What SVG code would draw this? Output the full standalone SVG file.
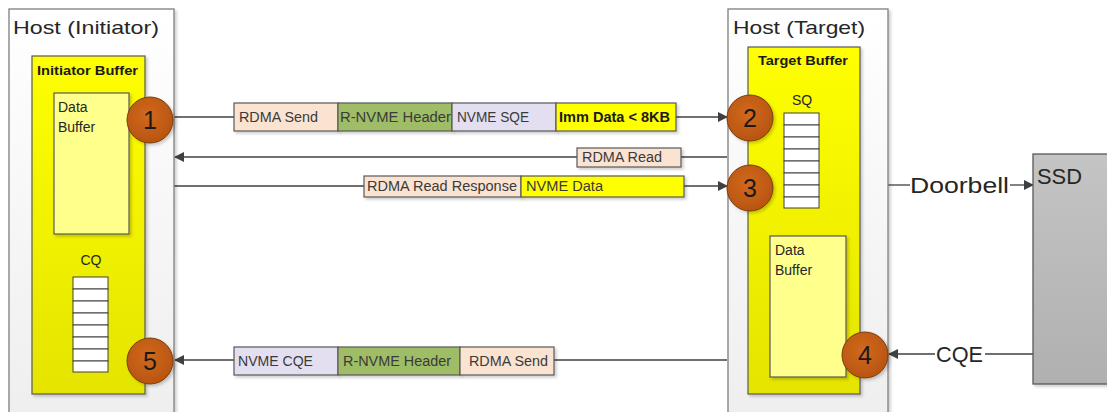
<svg xmlns="http://www.w3.org/2000/svg" width="1107" height="412" viewBox="0 0 1107 412">
<style>
text{font-family:"Liberation Sans",Arial,sans-serif;fill:#262626}
.host{fill:url(#gHost);stroke:#7f7f7f;stroke-width:1.3}
.buf{fill:url(#gYel);stroke:#595959;stroke-width:1.2}
.dbuf{fill:#FFFF8C;stroke:#595959;stroke-width:1.2}
.cell{fill:#fff;stroke:#404040;stroke-width:1}
.pk{stroke:#595959;stroke-width:1.2}
.rdma{fill:#FBE3D2}
.hdr{fill:#9FBD66}
.sqe{fill:#E3DFF0}
.yel{fill:#FFFF00}
.pt{font-size:14px;fill:#3a3a3a}
.num{fill:url(#gCirc);stroke:#7a3a0a;stroke-width:1}
.nt{font-size:25px;text-anchor:middle;fill:#1a1a1a}
.ln{stroke:#404040;stroke-width:1.3;fill:none}
.big{font-size:22px}
.sm{font-size:14px}
.bold{font-weight:bold;font-size:13px;fill:#1a1a1a}
</style>
<defs>
<linearGradient id="gHost" x1="0" y1="0" x2="0" y2="1"><stop offset="0" stop-color="#ffffff"/><stop offset="1" stop-color="#eeeeee"/></linearGradient>
<linearGradient id="gYel" x1="0" y1="0" x2="0" y2="1"><stop offset="0" stop-color="#FFFF00"/><stop offset="1" stop-color="#E4E400"/></linearGradient>
<linearGradient id="gSsd" x1="0" y1="0" x2="0" y2="1"><stop offset="0" stop-color="#C4C4C4"/><stop offset="1" stop-color="#B0B0B0"/></linearGradient>
<radialGradient id="gCirc" cx="0.45" cy="0.4" r="0.6"><stop offset="0" stop-color="#D2691E"/><stop offset="1" stop-color="#B8550F"/></radialGradient>
<filter id="sh" x="-10%" y="-10%" width="130%" height="130%"><feDropShadow dx="2" dy="2" stdDeviation="1.5" flood-color="#000" flood-opacity="0.2"/></filter>
<marker id="ar" viewBox="0 0 10 10" refX="9" refY="5" markerWidth="10" markerHeight="10" markerUnits="userSpaceOnUse" orient="auto"><path d="M0,0 L10,5 L0,10 z" fill="#404040"/></marker>
</defs>

<g id="connectors">
<line class="ln" x1="174" y1="117" x2="727" y2="117" marker-end="url(#ar)"/>
<line class="ln" x1="727" y1="157" x2="175" y2="157" marker-end="url(#ar)"/>
<line class="ln" x1="174" y1="186" x2="727" y2="186" marker-end="url(#ar)"/>
<line class="ln" x1="727" y1="360" x2="175" y2="360" marker-end="url(#ar)"/>
<line class="ln" x1="888" y1="185" x2="910" y2="185"/>
<line class="ln" x1="1010" y1="185" x2="1033" y2="185" marker-end="url(#ar)"/>
<line class="ln" x1="1033" y1="354" x2="985" y2="354"/>
<line class="ln" x1="935" y1="354" x2="889" y2="354" marker-end="url(#ar)"/>
<text class="big" x="910" y="193" textLength="99" lengthAdjust="spacingAndGlyphs">Doorbell</text>
<text class="big" x="936" y="362" textLength="47" lengthAdjust="spacingAndGlyphs">CQE</text>
</g>

<g id="host-initiator">
<rect class="host" x="9" y="9" width="165" height="420" filter="url(#sh)"/>
<text x="13" y="34" style="font-size:19px" textLength="146" lengthAdjust="spacingAndGlyphs">Host (Initiator)</text>
</g>
<g id="initiator-buffer">
<rect class="buf" x="32" y="56" width="113" height="338" filter="url(#sh)"/>
<text class="bold" x="37" y="75" textLength="101" lengthAdjust="spacingAndGlyphs">Initiator Buffer</text>
</g>
<g id="initiator-data-buffer">
<rect class="dbuf" x="54" y="93" width="75" height="141" filter="url(#sh)"/>
<text class="sm" x="58" y="112">Data</text>
<text class="sm" x="58" y="132">Buffer</text>
</g>
<g id="cq">
<text class="sm" x="91" y="265" text-anchor="middle">CQ</text>
<rect class="cell" x="73" y="277" width="35" height="12"/>
<rect class="cell" x="73" y="289" width="35" height="12"/>
<rect class="cell" x="73" y="301" width="35" height="12"/>
<rect class="cell" x="73" y="313" width="35" height="12"/>
<rect class="cell" x="73" y="325" width="35" height="12"/>
<rect class="cell" x="73" y="337" width="35" height="12"/>
<rect class="cell" x="73" y="349" width="35" height="12"/>
<rect class="cell" x="73" y="361" width="35" height="11"/>
</g>

<g id="host-target">
<rect class="host" x="728" y="9" width="160" height="420" filter="url(#sh)"/>
<text x="733" y="34" style="font-size:19px" textLength="132" lengthAdjust="spacingAndGlyphs">Host (Target)</text>
</g>
<g id="target-buffer">
<rect class="buf" x="748" y="47" width="112" height="347" filter="url(#sh)"/>
<text class="bold" x="758" y="65" textLength="90" lengthAdjust="spacingAndGlyphs">Target Buffer</text>
</g>
<g id="sq">
<text class="sm" x="802" y="105" text-anchor="middle">SQ</text>
<rect class="cell" x="784" y="113" width="35" height="12"/>
<rect class="cell" x="784" y="125" width="35" height="12"/>
<rect class="cell" x="784" y="137" width="35" height="12"/>
<rect class="cell" x="784" y="149" width="35" height="12"/>
<rect class="cell" x="784" y="161" width="35" height="12"/>
<rect class="cell" x="784" y="173" width="35" height="12"/>
<rect class="cell" x="784" y="185" width="35" height="12"/>
<rect class="cell" x="784" y="197" width="35" height="11"/>
</g>
<g id="target-data-buffer">
<rect class="dbuf" x="770" y="236" width="76" height="141" filter="url(#sh)"/>
<text class="sm" x="775" y="255">Data</text>
<text class="sm" x="775" y="275">Buffer</text>
</g>

<g id="ssd">
<rect x="1033" y="154" width="90" height="230" fill="url(#gSsd)" stroke="#595959" stroke-width="1.3" filter="url(#sh)"/>
<text x="1037" y="184" style="font-size:22px" textLength="45" lengthAdjust="spacingAndGlyphs">SSD</text>
</g>

<g id="msg-1">
<rect class="pk rdma" x="234" y="103" width="104" height="28" filter="url(#sh)"/>
<rect class="pk hdr" x="338" y="103" width="114" height="28" filter="url(#sh)"/>
<rect class="pk sqe" x="452" y="103" width="104" height="28" filter="url(#sh)"/>
<rect class="pk yel" x="556" y="103" width="120" height="28" filter="url(#sh)"/>
<text class="pt" x="239" y="122" textLength="79" lengthAdjust="spacingAndGlyphs">RDMA Send</text>
<text class="pt" x="340" y="122" textLength="111" lengthAdjust="spacingAndGlyphs">R-NVME Header</text>
<text class="pt" x="457" y="122" textLength="72" lengthAdjust="spacingAndGlyphs">NVME SQE</text>
<text class="pt" x="559" y="122" textLength="111" lengthAdjust="spacingAndGlyphs" style="font-weight:bold;fill:#1a1a1a">Imm Data &lt; 8KB</text>
</g>
<g id="msg-2">
<rect class="pk rdma" x="577" y="148" width="104" height="19" filter="url(#sh)"/>
<text class="pt" x="582" y="162" textLength="80" lengthAdjust="spacingAndGlyphs">RDMA Read</text>
</g>
<g id="msg-3">
<rect class="pk rdma" x="364" y="176" width="157" height="21" filter="url(#sh)"/>
<rect class="pk yel" x="521" y="176" width="163" height="21" filter="url(#sh)"/>
<text class="pt" x="367" y="191" textLength="150" lengthAdjust="spacingAndGlyphs">RDMA Read Response</text>
<text class="pt" x="526" y="191" textLength="77" lengthAdjust="spacingAndGlyphs">NVME Data</text>
</g>
<g id="msg-4">
<rect class="pk sqe" x="234" y="347" width="104" height="28" filter="url(#sh)"/>
<rect class="pk hdr" x="338" y="347" width="122" height="28" filter="url(#sh)"/>
<rect class="pk rdma" x="460" y="347" width="94" height="28" filter="url(#sh)"/>
<text class="pt" x="238" y="366" textLength="75" lengthAdjust="spacingAndGlyphs">NVME CQE</text>
<text class="pt" x="343" y="366" textLength="108" lengthAdjust="spacingAndGlyphs">R-NVME Header</text>
<text class="pt" x="469" y="366" textLength="79" lengthAdjust="spacingAndGlyphs">RDMA Send</text>
</g>

<g id="step-1"><circle class="num" cx="150" cy="120" r="23" filter="url(#sh)"/><text class="nt" x="150" y="129">1</text></g>
<g id="step-2"><circle class="num" cx="750" cy="118" r="23" filter="url(#sh)"/><text class="nt" x="750" y="127">2</text></g>
<g id="step-3"><circle class="num" cx="750" cy="188" r="23" filter="url(#sh)"/><text class="nt" x="750" y="197">3</text></g>
<g id="step-4"><circle class="num" cx="865" cy="355" r="23" filter="url(#sh)"/><text class="nt" x="865" y="364">4</text></g>
<g id="step-5"><circle class="num" cx="150" cy="361" r="23" filter="url(#sh)"/><text class="nt" x="150" y="370">5</text></g>
</svg>
